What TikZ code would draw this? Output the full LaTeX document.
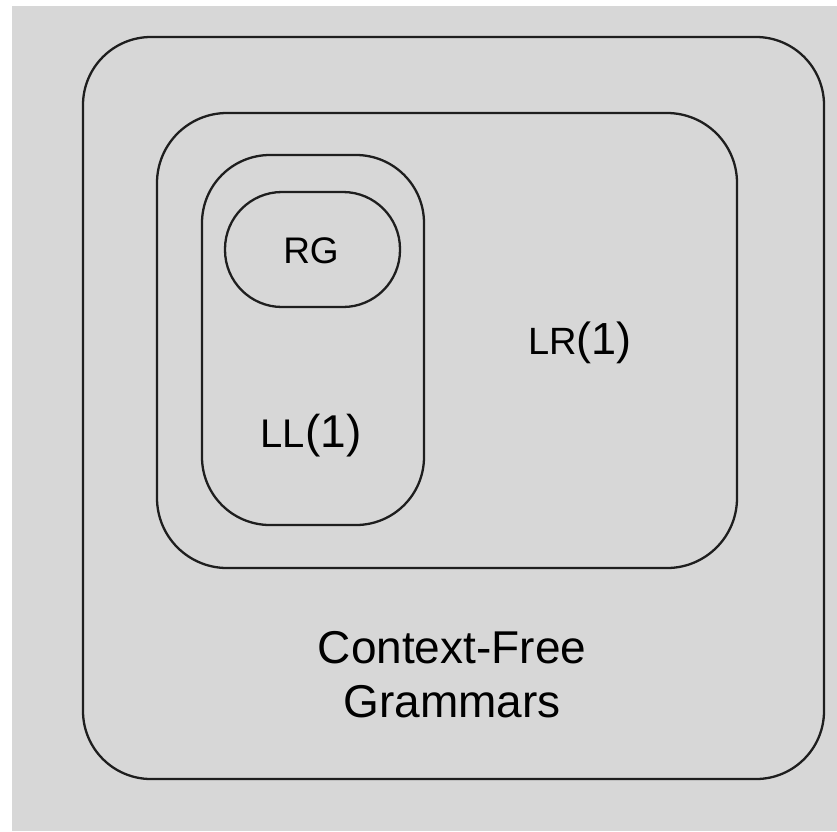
\documentclass[tikz,border=0pt]{standalone}
\usepackage{fontspec}
\setmainfont{Liberation Sans}
\definecolor{panel}{RGB}{215,215,215}
\definecolor{edge}{RGB}{30,30,30}
\begin{document}
\begin{tikzpicture}[x=1pt,y=-1pt,
  setbox/.style={draw=edge,line width=2.3pt},
  lbl/.style={anchor=base,inner sep=0pt,text=black}]
  % page and grey panel
  \useasboundingbox (0,0) rectangle (837,831);
  \fill[white] (0,0) rectangle (837,831);
  \fill[panel] (12,6) rectangle (837,831);

  % nested language classes
  \draw[setbox,rounded corners=68pt] (83,37) rectangle (824,779);
  \draw[setbox,rounded corners=70pt] (157,113) rectangle (737,568);
  \draw[setbox,rounded corners=68pt] (202,155) rectangle (424,525);
  \draw[setbox,rounded corners=57pt] (225,192) rectangle (400,307);

  % labels
  \node[lbl,font=\fontsize{37}{44}\selectfont] (rg) at (311,263) {RG};
  \node[lbl] (ll) at (311,447) {{\fontsize{40}{44}\selectfont LL}{\fontsize{46}{54}\selectfont(1)}};
  \node[lbl] (lr) at (580,354) {{\fontsize{38}{44}\selectfont LR}{\fontsize{45}{54}\selectfont(1)}};
  \node[lbl,font=\fontsize{46}{54}\selectfont] (cf1) at (452,663) {Context-Free};
  \node[lbl,font=\fontsize{46}{54}\selectfont] (cf2) at (452,717) {Grammars};
\end{tikzpicture}
\end{document}
